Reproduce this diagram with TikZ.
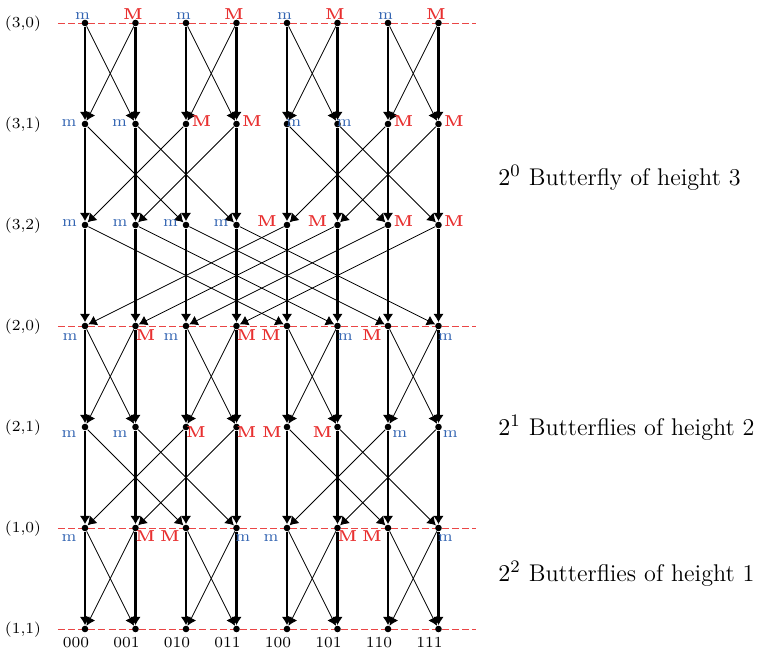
\documentclass[tikz,border=0pt]{standalone}
\usetikzlibrary{arrows.meta,calc}
\definecolor{lowblue}{RGB}{52,101,178}
\definecolor{highred}{RGB}{232,48,48}
\tikzset{
  dot/.style={circle,fill=black,inner sep=0pt,minimum size=3pt},
  vert/.style={-{Latex[length=3.8pt,width=4.8pt]},line width=1pt},
  cross/.style={-{Latex[length=3.8pt,width=4.8pt]},line width=0.4pt},
  stage/.style={highred!90,dash pattern=on 3.2pt off 1.4pt,line width=0.4pt},
  lbl/.style={inner sep=0pt,font=\fontsize{7.2}{8}\selectfont},
  rowlbl/.style={inner sep=0pt,anchor=base,font=\scriptsize},
  note/.style={inner sep=0pt,anchor=base west,font=\fontsize{11}{13}\selectfont}
}
\newcommand{\minlab}{\textcolor{lowblue}{m}}
\newcommand{\maxlab}{\textcolor{highred}{\bfseries M}}

\begin{document}
\begin{tikzpicture}[x=0.016cm,y=-0.016cm]
\useasboundingbox (0,0) rectangle (761,654);
% stage separators
\foreach \r in {0,3,5,6} \draw[stage] (58,{23+101*\r}) -- (476,{23+101*\r});
% comparator nodes
\foreach \r in {0,...,6} \foreach \c in {0,...,7} \node[dot] (n\r\c) at ({85+50.5*\c},{23+101*\r}) {};
% wires
\foreach \r/\d in {0/1,1/2,2/4,3/1,4/2,5/1} {
  \pgfmathtruncatemacro\s{\r+1}
  \foreach \c in {0,...,7} {
    \pgfmathtruncatemacro\pp{mod(floor(\c/\d),2)==0 ? \c+\d : \c-\d}
    \pgfmathsetmacro\lw{(\c==3 || \c==7) ? 1.5 : 1}
    \draw[cross] (n\r\c) -- (n\s\pp);
    \draw[vert,line width=\lw pt] (n\r\c) -- (n\s\c);
  }
}
% row names and wire names
\foreach \r/\txt in {0/{(3,0)},1/{(3,1)},2/{(3,2)},3/{(2,0)},4/{(2,1)},5/{(1,0)},6/{(1,1)}}
  \node[rowlbl] (r\r) at ($(n\r0)+(-62,4.5)$) {\txt};
\foreach \c/\txt in {0/000,1/001,2/010,3/011,4/100,5/101,6/110,7/111}
  \node[rowlbl] (b\c) at ($(n6\c)+(-9,18)$) {\txt};
% min / max marks
\foreach \c/\txt in {0/\minlab,1/\maxlab,2/\minlab,3/\maxlab,4/\minlab,5/\maxlab,6/\minlab,7/\maxlab}
  \node[lbl,anchor=base] (l0\c) at ($(n0\c)+(-2.5,-4)$) {\txt};
\foreach \c/\txt/\a/\dx in {0/\minlab/east/-8,1/\minlab/east/-8,2/\maxlab/west/5.5,3/\maxlab/west/5.5,
    4/\minlab/west/-1,5/\minlab/west/-1,6/\maxlab/west/5.5,7/\maxlab/west/5.5}
  \node[lbl,anchor=base \a] (l1\c) at ($(n1\c)+(\dx,2)$) {\txt};
\foreach \c/\txt/\a/\dx in {0/\minlab/east/-7.5,1/\minlab/east/-7.5,2/\minlab/east/-7.5,3/\minlab/east/-7.5,
    4/\maxlab/east/-10,5/\maxlab/east/-10,6/\maxlab/west/5.5,7/\maxlab/west/5.5}
  \node[lbl,anchor=base \a] (l2\c) at ($(n2\c)+(\dx,1)$) {\txt};
\foreach \c/\txt/\a/\dx in {0/\minlab/east/-7,1/\maxlab/west/0,2/\minlab/east/-7,3/\maxlab/west/0,
    4/\maxlab/east/-6,5/\minlab/west/0,6/\maxlab/east/-6,7/\minlab/west/-1}
  \node[lbl,anchor=base \a] (l3\c) at ($(n3\c)+(\dx,14.5)$) {\txt};
\foreach \c/\txt/\a/\dx in {0/\minlab/east/-8,1/\minlab/east/-7.5,2/\maxlab/west/0,3/\maxlab/west/0,
    4/\maxlab/east/-5,5/\maxlab/east/-5,6/\minlab/west/4,7/\minlab/west/4}
  \node[lbl,anchor=base \a] (l4\c) at ($(n4\c)+(\dx,10)$) {\txt};
\foreach \c/\txt/\a/\dx in {0/\minlab/east/-8,1/\maxlab/west/0,2/\maxlab/east/-6,3/\minlab/west/-1.5,
    4/\minlab/east/-8,5/\maxlab/west/0,6/\maxlab/east/-6,7/\minlab/west/-1}
  \node[lbl,anchor=base \a] (l5\c) at ($(n5\c)+(\dx,13.5)$) {\txt};
% stage notes
\node[note] (t0) at (498,185) {$2^0$ Butterfly of height 3};
\node[note] (t1) at (498,435) {$2^1$ Butterflies of height 2};
\node[note] (t2) at (498,581.5) {$2^2$ Butterflies of height 1};
\end{tikzpicture}
\end{document}
